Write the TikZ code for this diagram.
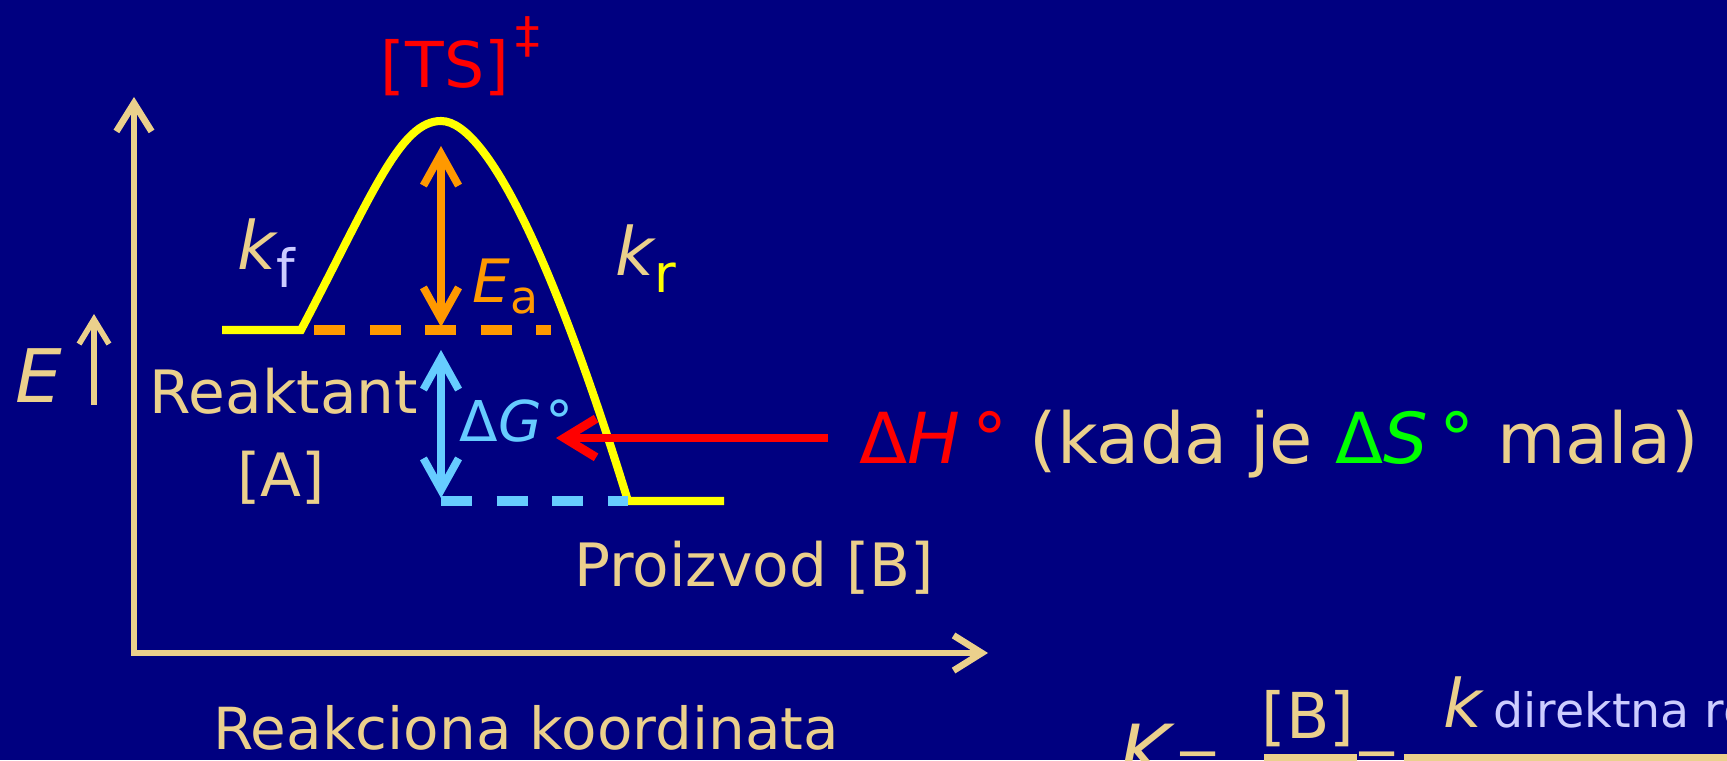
\documentclass[tikz,border=0pt]{standalone}
\usepackage{fontspec}
\setmainfont{DejaVu Sans}
\usetikzlibrary{arrows.meta}
\definecolor{navy}{HTML}{000080}
\definecolor{sand}{HTML}{EBD08C}
\definecolor{tsred}{HTML}{FF0000}
\definecolor{eaorange}{HTML}{FF9900}
\definecolor{dgblue}{HTML}{66CCFF}
\definecolor{dsgreen}{HTML}{00FF00}
\definecolor{lilac}{HTML}{CCCCFF}
\definecolor{profileyellow}{HTML}{FFFF00}
\newcommand{\fsz}[1]{\fontsize{#1}{#1}\selectfont}

\begin{document}
\begin{tikzpicture}[x=0.01cm, y=0.01cm,
  every node/.style={inner sep=0pt, text=sand, font=\fsz{17}},
  >={Straight Barb[length=9pt, width=10pt]},
  axis/.style={draw=sand, line width=1.9pt},
  profile/.style={draw=profileyellow, line width=2.3pt},
  level/.style={line width=2.8pt, dash pattern=on 8.8pt off 7pt},
  dbl/.style={line width=2.2pt, <->}]
  \useasboundingbox (0,0) rectangle (1727,760);
  \clip (0,0) rectangle (1727,760);
  \fill[navy] (0,0) rectangle (1727,760);
  % axes
  \coordinate (origin) at (134,107);
  \coordinate (ytop) at (134,663);
  \coordinate (xend) at (988,107);
  \draw[axis, {Straight Barb[length=8pt, width=10pt]}-{Straight Barb[length=8pt, width=10pt]}] (ytop) -- (origin) -- (xend);
  \node[font=\fsz{21}, anchor=base] (elabel) at (39,358) {\itshape E};
  \coordinate (eup0) at (94,355);
  \coordinate (eup1) at (94,446);
  \draw[sand, line width=1.6pt, -{Straight Barb[length=7pt, width=8.5pt]}] (eup0) -- (eup1);
  \node[font=\fsz{16.5}, anchor=base] (xlabel) at (526,11) {Reakciona koordinata};
  % energy profile
  \coordinate (r0) at (222,430);
  \coordinate (r1) at (301,430);
  \coordinate (ts) at (441,639);
  \coordinate (p0) at (628,259);
  \coordinate (p1) at (724,259);
  \draw[profile] (r0) -- (r1) .. controls (372,565) and (400,639) .. (ts)
    .. controls (490,639) and (560,480) .. (p0) -- (p1);
  % levels
  \coordinate (ealeft) at (314,430);
  \coordinate (earight) at (551,430);
  \coordinate (dgleft) at (441,259);
  \draw[level, eaorange] (ealeft) -- (earight);
  \draw[level, dgblue] (dgleft) -- (p0);
  % barrier and free energy arrows
  \coordinate (eatop) at (441,614);
  \coordinate (eabot) at (441,433);
  \coordinate (dgtop) at (441,410);
  \coordinate (dgbot) at (441,262);
  \draw[dbl, eaorange] (eatop) -- (eabot);
  \draw[dbl, dgblue] (dgtop) -- (dgbot);
  % labels
  \node[text=tsred, font=\fsz{18}, anchor=base west] (tslabel) at (380,672)
    {[TS]\kern2pt\raisebox{10pt}{\fsz{14}‡}};
  \node[text=eaorange, anchor=base west] (ealabel) at (472,457) {\itshape E\raisebox{-3pt}{\upshape\fsz{13}a}};
  \node[text=dgblue, font=\fsz{16}, anchor=base west] (dglabel) at (459,319) {Δ\textit{G}\kern1pt°};
  \node[font=\fsz{19}, anchor=base west] (kf) at (237,490) {\itshape k\raisebox{-5pt}{\upshape\fsz{15}\color{lilac}f}};
  \node[font=\fsz{19}, anchor=base west] (kr) at (615,485) {\itshape k\raisebox{-5pt}{\upshape\fsz{15}\color{profileyellow}r}};
  \node[anchor=base] (reakt) at (284,347) {Reaktant};
  \node[anchor=base] (alabel) at (281,264) {[A]};
  \node[anchor=base] (prod) at (754,174) {Proizvod [B]};
  % enthalpy remark
  \node[font=\fsz{20}, anchor=base west] (dh) at (859,297)
    {{\color{tsred}Δ\textit{H}\,°} (kada je {\color{dsgreen}Δ\textit{S}\,°} mala)};
  \coordinate (dhstart) at (828,322);
  \coordinate (dhtip) at (556,322);
  \draw[tsred, line width=2.5pt, -{Straight Barb[length=9pt, width=11pt]}] (dhstart) -- (dhtip);
  % equilibrium constant
  \node[font=\fsz{22}, anchor=base] (kconst) at (1145,-20) {\itshape K};
  \node[font=\fsz{16}, anchor=base] (eq1) at (1198,-17) {=};
  \node[font=\fsz{18}, anchor=base] (conc) at (1308,22) {[B]};
  \node[font=\fsz{16}, anchor=base] (eq2) at (1377,-17) {=};
  \node[font=\fsz{19}, anchor=base west] (kdir) at (1443,33)
    {\itshape k\,{\upshape\fsz{13.5}\color{lilac}direktna reakcija}};
  \coordinate (bar1l) at (1264,2);
  \coordinate (bar1r) at (1357,2);
  \coordinate (bar2l) at (1404,2);
  \coordinate (bar2r) at (1760,2);
  \draw[sand, line width=2.4pt] (bar1l) -- (bar1r);
  \draw[sand, line width=2.4pt] (bar2l) -- (bar2r);
\end{tikzpicture}
\end{document}
